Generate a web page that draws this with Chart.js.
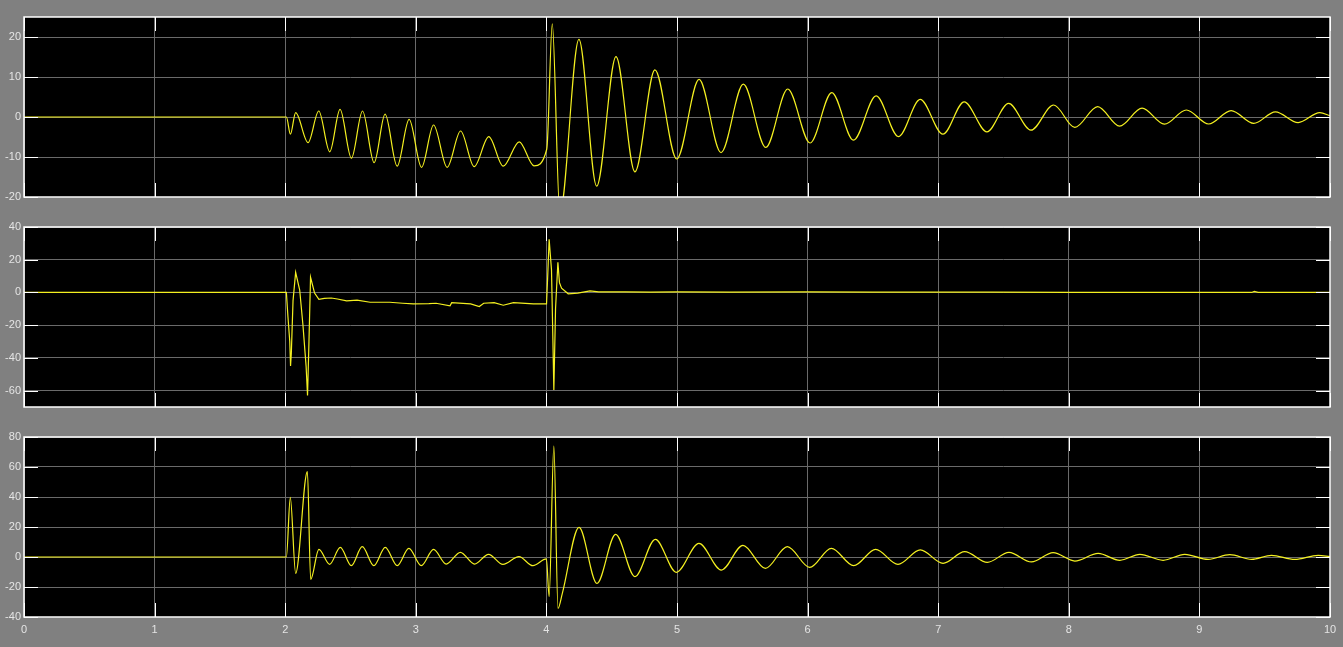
<!DOCTYPE html>
<html><head><meta charset="utf-8">
<script src="https://cdn.jsdelivr.net/npm/chart.js@4.4.0/dist/chart.umd.min.js"></script>
<style>
html,body{margin:0;padding:0;background:#808080;width:1343px;height:647px;overflow:hidden;}
.p{position:absolute;left:0;width:1343px;}
</style></head><body>
<div class="p" style="top:7px;height:200px"><canvas id="c1"></canvas></div>
<div class="p" style="top:217px;height:200px"><canvas id="c2"></canvas></div>
<div class="p" style="top:427px;height:220px"><canvas id="c3"></canvas></div>
<script>
// ---- data ----
const xTicks = [0,1,2,3,4,5,6,7,8,9,10];
const yTicks1 = [-20,-10,0,10,20];
const yTicks2 = [-60,-40,-20,0,20,40];
const yTicks3 = [-40,-20,0,20,40,60,80];

const time1 = [0,2.009,2.040,2.080,2.175,2.257,2.341,2.420,2.507,2.592,2.681,2.765,2.857,2.949,3.044,3.136,3.240,3.343,3.447,3.559,3.669,3.792,3.905,4.003,4.045,4.103,4.249,4.385,4.533,4.678,4.831,4.998,5.169,5.337,5.508,5.680,5.848,6.019,6.185,6.351,6.525,6.696,6.862,7.036,7.199,7.373,7.539,7.710,7.884,8.046,8.221,8.389,8.561,8.732,8.900,9.071,9.243,9.416,9.582,9.756,9.922,10];
const value1 = [0,0,-4.3,1.1,-6.4,1.5,-8.7,1.9,-10.3,1.5,-11.4,0.7,-12.3,-0.6,-12.6,-2.0,-12.6,-3.5,-12.4,-4.9,-12.3,-6.2,-12.2,-8.0,23.3,-24,19.4,-17.3,15.1,-13.7,11.8,-10.5,9.4,-8.9,8.2,-7.6,7.0,-6.5,6.1,-5.8,5.3,-4.9,4.4,-4.3,3.8,-3.7,3.4,-3.3,3.0,-2.6,2.6,-2.3,2.2,-1.8,1.75,-1.75,1.6,-1.6,1.3,-1.4,1.1,0.3];

const time2 = [0,2.009,2.021,2.035,2.041,2.047,2.060,2.080,2.111,2.136,2.160,2.171,2.182,2.194,2.225,2.258,2.30,2.353,2.40,2.47,2.55,2.65,2.80,2.90,2.98,3.10,3.155,3.262,3.275,3.42,3.486,3.52,3.60,3.67,3.748,3.90,4.001,4.010,4.021,4.039,4.050,4.057,4.070,4.088,4.100,4.116,4.167,4.24,4.334,4.40,4.60,4.80,5.00,5.40,6.00,6.50,7.00,7.40,8.00,9.40,9.42,9.45,10];
const value2 = [0,0,-14.8,-30,-44.9,-37,-5,12.3,1.5,-20,-45,-63,-30,9.3,-0.4,-4.2,-3.6,-3.4,-4.0,-5.1,-4.7,-6.0,-6.0,-6.6,-7.0,-6.8,-6.6,-8.2,-6.2,-7.0,-8.6,-6.6,-6.2,-7.8,-6.2,-7.0,-7.0,10,32.5,13.8,-30,-59.6,-10,18.4,6,2.6,-0.8,-0.4,1.0,0.3,0.4,0.2,0.3,0.2,0.3,0.2,0.2,0.2,0,0,0.6,0,0];

const time3 = [0,2.009,2.039,2.080,2.170,2.195,2.258,2.340,2.422,2.506,2.590,2.679,2.766,2.858,2.947,3.042,3.136,3.233,3.341,3.450,3.557,3.667,3.790,3.897,4.000,4.021,4.057,4.089,4.122,4.250,4.387,4.530,4.678,4.834,4.995,5.168,5.340,5.505,5.677,5.845,6.016,6.182,6.353,6.521,6.692,6.863,7.037,7.203,7.376,7.542,7.714,7.880,8.046,8.225,8.391,8.544,8.722,8.888,9.067,9.233,9.399,9.552,9.730,9.909,10];
const value3 = [0,0,39.8,-10.9,56.9,-14.9,5.1,-4.9,6.4,-5.8,6.9,-5.8,6.4,-5.8,5.8,-5.8,5.1,-4.7,3.1,-4.7,1.8,-4.9,0.2,-5.8,-1.3,-26.4,74,-34.2,-24.2,19.8,-17.6,15.1,-13.1,11.8,-10.2,9.1,-8.7,7.8,-7.6,6.9,-6.9,5.8,-5.8,5.1,-4.9,4.7,-4.2,3.6,-3.6,3.1,-3.3,2.9,-2.7,2.4,-2.2,1.8,-2.2,1.8,-1.6,1.6,-1.6,1.1,-1.6,1.1,0.2];

// ---- styling / drawing ----
const FONT = {family:'"Liberation Sans", Arial, sans-serif', size:11};
const LABEL = '#e4e4e4';
const GRID = '#6a6a6a';

const areaPlugin = {
  id:'scopeFrame',
  beforeDraw(chart){
    const {ctx, chartArea:a} = chart;
    ctx.save(); ctx.fillStyle='#000'; ctx.fillRect(a.left,a.top,a.right-a.left,a.bottom-a.top); ctx.restore();
  },
  afterDatasetsDraw(chart){
    const {ctx, chartArea:a, scales:{x,y}} = chart;
    ctx.save();
    ctx.strokeStyle='#ffffff'; ctx.lineWidth=1;
    ctx.beginPath();
    x.ticks.forEach(t=>{const px=Math.round(x.getPixelForValue(t.value))+0.5;
      ctx.moveTo(px,a.top); ctx.lineTo(px,a.top+14); ctx.moveTo(px,a.bottom); ctx.lineTo(px,a.bottom-14);});
    y.ticks.forEach(t=>{const py=Math.round(y.getPixelForValue(t.value))+0.5;
      ctx.moveTo(a.left,py); ctx.lineTo(a.left+14,py); ctx.moveTo(a.right,py); ctx.lineTo(a.right-14,py);});
    ctx.stroke();
    ctx.lineWidth=1.5;
    ctx.strokeRect(a.left,a.top,a.right-a.left,a.bottom-a.top);
    ctx.restore();
  }
};

function makeChart(id, times, values, yMin, yMax, yTicks, showX, smooth){
  const pts = times.map((t,i)=>({x:t, y:values[i]}));
  return new Chart(document.getElementById(id), {
    type:'line',
    data:{datasets:[{data:pts, borderColor:'#f4f020', borderWidth:1.2, pointRadius:0,
      tension: smooth ? 0.4 : 0, cubicInterpolationMode: smooth ? 'monotone' : 'default', fill:false}]},
    options:{
      responsive:true, maintainAspectRatio:false, animation:false,
      layout:{padding:{top:10, bottom: showX ? 0 : 10, left:0, right:13}},
      plugins:{legend:{display:false}, tooltip:{enabled:false}},
      scales:{
        x:{type:'linear', min:0, max:10,
          afterBuildTicks:s=>{s.ticks = xTicks.map(v=>({value:v}));},
          afterFit:s=>{s.height = showX ? 30 : 0;},
          grid:{color:GRID, drawTicks:false, lineWidth:1},
          border:{display:false},
          ticks:{display:showX, color:LABEL, font:FONT, padding:6, maxRotation:0, autoSkip:false}},
        y:{type:'linear', min:yMin, max:yMax,
          afterBuildTicks:s=>{s.ticks = yTicks.map(v=>({value:v}));},
          afterFit:s=>{s.width = 24;},
          grid:{color:GRID, drawTicks:false, lineWidth:1},
          border:{display:false},
          ticks:{color:LABEL, font:FONT, padding:3, autoSkip:false}}
      }
    },
    plugins:[areaPlugin]
  });
}

makeChart('c1', time1, value1, -20, 25, yTicks1, false, true);
makeChart('c2', time2, value2, -70, 40, yTicks2, false, false);
makeChart('c3', time3, value3, -40, 80, yTicks3, true, true);
</script>
</body></html>
